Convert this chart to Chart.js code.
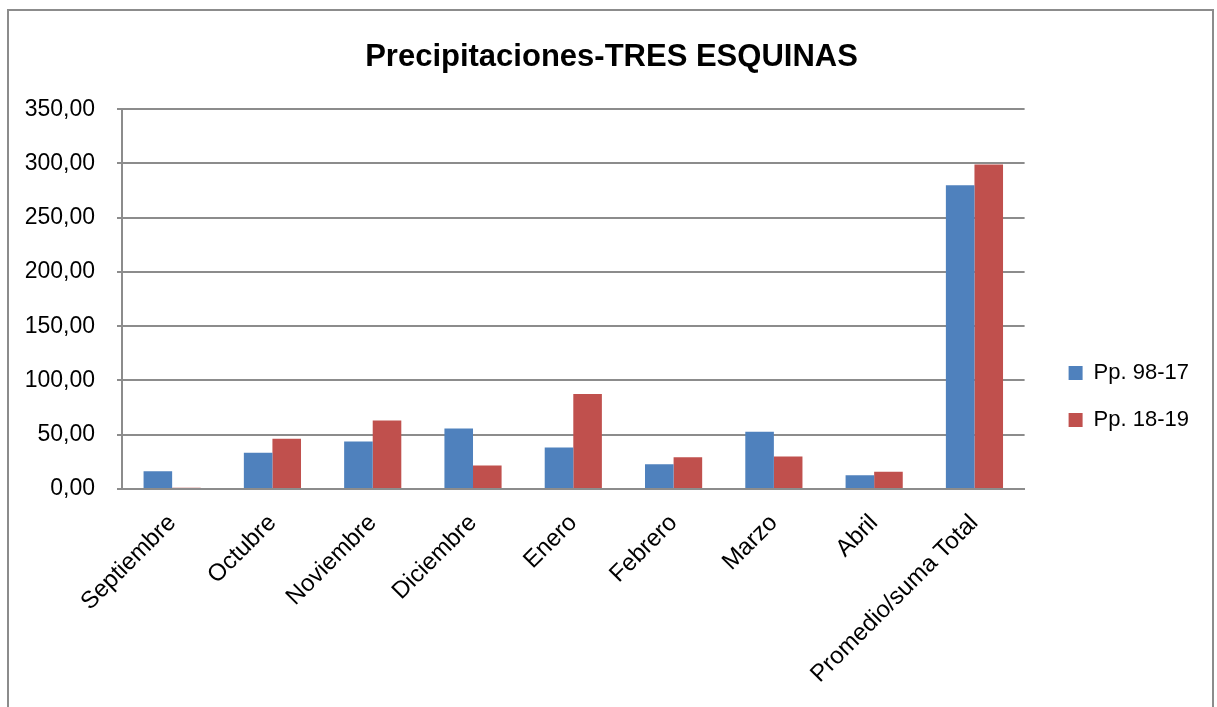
<!DOCTYPE html>
<html>
<head>
<meta charset="utf-8">
<script src="https://cdn.jsdelivr.net/npm/chart.js@4"></script>
<style>
  html, body { margin: 0; padding: 0; background: #fff; }
  #wrap { position: relative; width: 1217px; height: 707px; overflow: hidden; }
  #frame { position: absolute; left: 7px; top: 9px; width: 1207px; height: 760px; border: 2px solid #8c8c8c; box-sizing: border-box; }
  canvas { position: absolute; left: 0; top: 0; }
</style>
</head>
<body>
<div id="wrap">
  <div id="frame"></div>
  <canvas id="c" width="1217" height="707"></canvas>
</div>
<script>
const categories = ["Septiembre", "Octubre", "Noviembre", "Diciembre", "Enero", "Febrero", "Marzo", "Abril", "Promedio/suma Total"];
const seriesNames = ["Pp. 98-17", "Pp. 18-19"];
const pp9817 = [16.3, 33.3, 43.8, 55.8, 38.2, 22.8, 52.8, 12.6, 280.0];
const pp1819 = [1.2, 46.3, 63.2, 21.6, 87.6, 29.3, 29.9, 16.0, 299.0];
const yTicks = [0, 50, 100, 150, 200, 250, 300, 350];
const titleText = "Precipitaciones-TRES ESQUINAS";

const FONT = "'Liberation Sans', Arial, sans-serif";

new Chart(document.getElementById('c'), {
  type: 'bar',
  data: {
    labels: categories,
    datasets: [
      { label: seriesNames[0], data: pp9817, backgroundColor: '#4F81BD', borderWidth: 0 },
      { label: seriesNames[1], data: pp1819, backgroundColor: '#C0504D', borderWidth: 0 }
    ]
  },
  options: {
    responsive: false,
    animation: false,
    devicePixelRatio: 1,
    layout: { padding: { left: 24, right: 18, top: 0, bottom: 0 } },
    datasets: { bar: { categoryPercentage: 0.57, barPercentage: 1.0 } },
    plugins: {
      title: {
        display: true,
        text: titleText,
        color: '#000',
        font: { family: FONT, size: 31, weight: 'bold' },
        padding: { top: 39, bottom: 33 }
      },
      legend: {
        position: 'right',
        align: 'center',
        title: { display: true, text: ' ', font: { family: FONT, size: 10 }, padding: { top: 0, bottom: 74 } },
        labels: {
          color: '#000',
          font: { family: FONT, size: 22 },
          boxWidth: 14,
          boxHeight: 14,
          padding: 25
        }
      },
      tooltip: { enabled: false }
    },
    scales: {
      x: {
        grid: { display: false },
        border: { display: true, color: '#8c8c8c', width: 2 },
        ticks: {
          color: '#000',
          font: { family: FONT, size: 24 },
          minRotation: 45,
          maxRotation: 45,
          autoSkip: false,
          padding: 12
        },
        afterFit(s) { s.height = 218; }
      },
      y: {
        min: 0,
        max: 350,
        afterBuildTicks(s) { s.ticks = yTicks.map(v => ({ value: v })); },
        grid: { color: '#8c8c8c', lineWidth: 2, tickLength: 5, drawTicks: true },
        border: { display: true, color: '#8c8c8c', width: 2 },
        ticks: {
          color: '#000',
          font: { family: FONT, size: 23 },
          padding: 22,
          callback: v => v.toFixed(2).replace('.', ',')
        },
        afterFit(s) { s.width = 98; }
      },
      gap: {
        type: 'linear',
        position: 'right',
        display: true,
        grid: { display: false, drawTicks: false },
        border: { display: false },
        ticks: { display: false },
        afterFit(s) { s.width = 19; }
      }
    }
  }
});
</script>
</body>
</html>
